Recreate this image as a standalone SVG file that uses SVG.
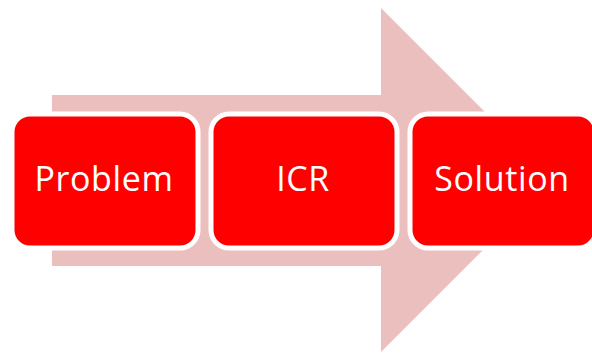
<svg xmlns="http://www.w3.org/2000/svg" width="592" height="355" viewBox="0 0 592 355">
<style>
.box{fill:#FF0000;stroke:#FFFFFF;stroke-width:5}
.lbl{fill:#FFFFFF;font-family:"Open Sans","Liberation Sans",sans-serif;font-size:34px;letter-spacing:0.6px;text-anchor:middle}
</style>
<rect width="592" height="355" fill="#FFFFFF"/>
<g id="arrow">
<polygon points="52,95 381,95 381,8 553,180 381,352 381,266 52,266" fill="#ECBFBF"/>
</g>
<g id="connectors"></g>
<g id="problem">
<rect class="box" x="12" y="114" width="186" height="134" rx="18"/>
<text class="lbl" x="104" y="191">Problem</text>
</g>
<g id="icr">
<rect class="box" x="211" y="114" width="186" height="134" rx="18"/>
<text class="lbl" x="303" y="191">ICR</text>
</g>
<g id="solution">
<rect class="box" x="410" y="114" width="186" height="134" rx="18"/>
<text class="lbl" x="502" y="191">Solution</text>
</g>
</svg>
